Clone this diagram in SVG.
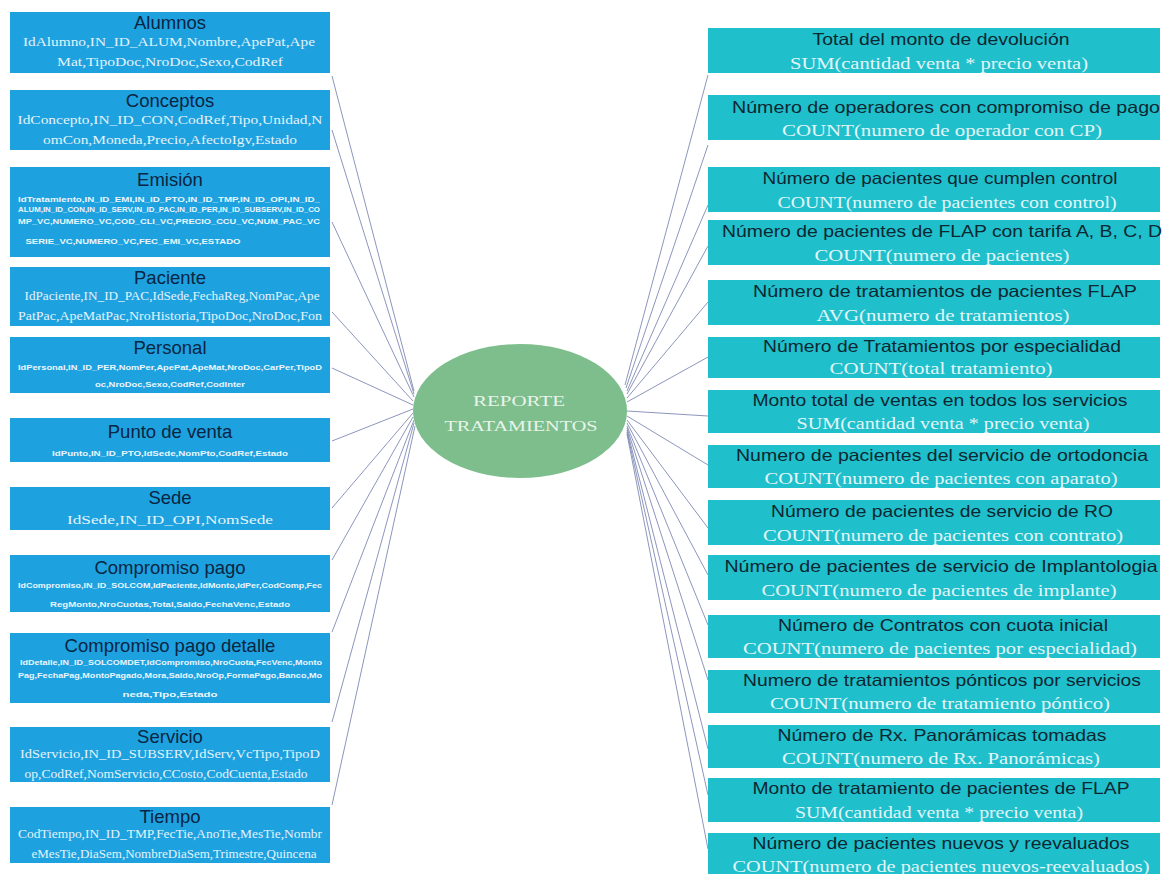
<svg xmlns="http://www.w3.org/2000/svg" width="1163" height="874" viewBox="0 0 1163 874">
<style>
.bg{fill:#ffffff}
.lbox{fill:#1ea1df}
.rbox{fill:#20bfcc}
.lt{font-family:"Liberation Sans",Arial,sans-serif;font-size:18.5px;fill:#0a2542;text-anchor:middle}
.rt{font-family:"Liberation Sans",Arial,sans-serif;font-size:16.5px;fill:#0d2731;text-anchor:middle}
.ls{font-family:"Liberation Serif","Times New Roman",serif;font-size:13px;fill:#e4f3fc;text-anchor:middle}
.lx{font-family:"Liberation Sans",Arial,sans-serif;font-size:7px;font-weight:bold;fill:#eaf6fd;text-anchor:middle}
.rs{font-family:"Liberation Serif","Times New Roman",serif;font-size:16px;fill:#e2f6f8;text-anchor:middle}
.ct{font-family:"Liberation Serif","Times New Roman",serif;font-size:15px;fill:#e8f4ea;text-anchor:middle}
.cn{stroke:#7f89b4;stroke-width:0.9;fill:none}
</style>
<rect class="bg" x="0" y="0" width="1163" height="874"/>
<g id="connectors">
<line class="cn" x1="332" y1="76" x2="414" y2="391"/>
<line class="cn" x1="332" y1="130" x2="414" y2="394"/>
<line class="cn" x1="332" y1="222" x2="414" y2="397"/>
<line class="cn" x1="332" y1="312" x2="413" y2="401"/>
<line class="cn" x1="332" y1="368" x2="413" y2="405"/>
<line class="cn" x1="332" y1="441" x2="413" y2="409"/>
<line class="cn" x1="332" y1="508" x2="413" y2="413"/>
<line class="cn" x1="332" y1="560" x2="413" y2="417"/>
<line class="cn" x1="332" y1="632" x2="414" y2="420"/>
<line class="cn" x1="332" y1="722" x2="414" y2="423"/>
<line class="cn" x1="332" y1="805" x2="415" y2="426"/>
<line class="cn" x1="625" y1="385" x2="708" y2="75"/>
<line class="cn" x1="626" y1="388" x2="708" y2="145"/>
<line class="cn" x1="627" y1="391" x2="708" y2="205"/>
<line class="cn" x1="627" y1="394" x2="708" y2="246"/>
<line class="cn" x1="627" y1="398" x2="708" y2="302"/>
<line class="cn" x1="627" y1="402" x2="708" y2="357"/>
<line class="cn" x1="627" y1="411" x2="708" y2="416"/>
<line class="cn" x1="627" y1="416" x2="708" y2="465"/>
<line class="cn" x1="627" y1="420" x2="708" y2="528"/>
<line class="cn" x1="627" y1="423" x2="708" y2="575"/>
<line class="cn" x1="627" y1="426" x2="708" y2="625"/>
<line class="cn" x1="627" y1="428" x2="708" y2="680"/>
<line class="cn" x1="627" y1="430" x2="708" y2="749"/>
<line class="cn" x1="627" y1="432" x2="708" y2="795"/>
<line class="cn" x1="627" y1="434" x2="708" y2="849"/>
</g>
<g id="center">
<ellipse cx="520" cy="411" rx="107" ry="67" fill="#7dbe8c"/>
<text class="ct" x="519" y="406" textLength="92" lengthAdjust="spacingAndGlyphs">REPORTE</text>
<text class="ct" x="521" y="431" textLength="153" lengthAdjust="spacingAndGlyphs">TRATAMIENTOS</text>
</g>
<g id="alumnos">
<rect class="lbox" x="10" y="12" width="320" height="61"/>
<text class="lt" x="170" y="29">Alumnos</text>
<text class="ls" x="169" y="46" textLength="292" lengthAdjust="spacingAndGlyphs">IdAlumno,IN_ID_ALUM,Nombre,ApePat,Ape</text>
<text class="ls" x="170" y="66" textLength="226" lengthAdjust="spacingAndGlyphs">Mat,TipoDoc,NroDoc,Sexo,CodRef</text>
</g>
<g id="conceptos">
<rect class="lbox" x="10" y="90" width="320" height="60"/>
<text class="lt" x="170" y="107">Conceptos</text>
<text class="ls" x="170" y="124" textLength="305" lengthAdjust="spacingAndGlyphs">IdConcepto,IN_ID_CON,CodRef,Tipo,Unidad,N</text>
<text class="ls" x="170" y="144" textLength="254" lengthAdjust="spacingAndGlyphs">omCon,Moneda,Precio,AfectoIgv,Estado</text>
</g>
<g id="emision">
<rect class="lbox" x="10" y="167" width="320" height="90"/>
<text class="lt" x="170" y="186">Emisión</text>
<text class="lx" x="169" y="202" textLength="302" lengthAdjust="spacingAndGlyphs">IdTratamiento,IN_ID_EMI,IN_ID_PTO,IN_ID_TMP,IN_ID_OPI,IN_ID_</text>
<text class="lx" x="169" y="212" textLength="302" lengthAdjust="spacingAndGlyphs">ALUM,IN_ID_CON,IN_ID_SERV,IN_ID_PAC,IN_ID_PER,IN_ID_SUBSERV,IN_ID_CO</text>
<text class="lx" x="169" y="224" textLength="302" lengthAdjust="spacingAndGlyphs">MP_VC,NUMERO_VC,COD_CLI_VC,PRECIO_CCU_VC,NUM_PAC_VC</text>
<text class="lx" x="133" y="244" textLength="215" lengthAdjust="spacingAndGlyphs">SERIE_VC,NUMERO_VC,FEC_EMI_VC,ESTADO</text>
</g>
<g id="paciente">
<rect class="lbox" x="10" y="267" width="320" height="59"/>
<text class="lt" x="170" y="284">Paciente</text>
<text class="ls" x="172" y="300" textLength="295" lengthAdjust="spacingAndGlyphs">IdPaciente,IN_ID_PAC,IdSede,FechaReg,NomPac,Ape</text>
<text class="ls" x="170" y="320" textLength="304" lengthAdjust="spacingAndGlyphs">PatPac,ApeMatPac,NroHistoria,TipoDoc,NroDoc,Fon</text>
</g>
<g id="personal">
<rect class="lbox" x="10" y="337" width="320" height="56"/>
<text class="lt" x="170" y="354">Personal</text>
<text class="lx" x="170" y="370" textLength="304" lengthAdjust="spacingAndGlyphs">IdPersonal,IN_ID_PER,NomPer,ApePat,ApeMat,NroDoc,CarPer,TipoD</text>
<text class="lx" x="170" y="387" textLength="150" lengthAdjust="spacingAndGlyphs">oc,NroDoc,Sexo,CodRef,CodInter</text>
</g>
<g id="punto-venta">
<rect class="lbox" x="10" y="418" width="320" height="44"/>
<text class="lt" x="170" y="438">Punto de venta</text>
<text class="lx" x="170" y="456" textLength="236" lengthAdjust="spacingAndGlyphs">IdPunto,IN_ID_PTO,IdSede,NomPto,CodRef,Estado</text>
</g>
<g id="sede">
<rect class="lbox" x="10" y="487" width="320" height="43"/>
<text class="lt" x="170" y="504">Sede</text>
<text class="ls" x="170" y="524" textLength="206" lengthAdjust="spacingAndGlyphs">IdSede,IN_ID_OPI,NomSede</text>
</g>
<g id="compromiso-pago">
<rect class="lbox" x="10" y="555" width="320" height="57"/>
<text class="lt" x="170" y="574">Compromiso pago</text>
<text class="lx" x="170" y="588" textLength="304" lengthAdjust="spacingAndGlyphs">IdCompromiso,IN_ID_SOLCOM,IdPaciente,IdMonto,IdPer,CodComp,Fec</text>
<text class="lx" x="170" y="607" textLength="240" lengthAdjust="spacingAndGlyphs">RegMonto,NroCuotas,Total,Saldo,FechaVenc,Estado</text>
</g>
<g id="compromiso-pago-detalle">
<rect class="lbox" x="10" y="633" width="320" height="70"/>
<text class="lt" x="170" y="652">Compromiso pago detalle</text>
<text class="lx" x="171" y="665" textLength="302" lengthAdjust="spacingAndGlyphs">IdDetalle,IN_ID_SOLCOMDET,IdCompromiso,NroCuota,FecVenc,Monto</text>
<text class="lx" x="170" y="678" textLength="304" lengthAdjust="spacingAndGlyphs">Pag,FechaPag,MontoPagado,Mora,Saldo,NroOp,FormaPago,Banco,Mo</text>
<text class="lx" x="170" y="697" textLength="95" lengthAdjust="spacingAndGlyphs">neda,Tipo,Estado</text>
</g>
<g id="servicio">
<rect class="lbox" x="10" y="727" width="320" height="55"/>
<text class="lt" x="170" y="743">Servicio</text>
<text class="ls" x="170" y="758" textLength="300" lengthAdjust="spacingAndGlyphs">IdServicio,IN_ID_SUBSERV,IdServ,VcTipo,TipoD</text>
<text class="ls" x="166" y="778" textLength="283" lengthAdjust="spacingAndGlyphs">op,CodRef,NomServicio,CCosto,CodCuenta,Estado</text>
</g>
<g id="tiempo">
<rect class="lbox" x="10" y="807" width="320" height="56"/>
<text class="lt" x="170" y="823">Tiempo</text>
<text class="ls" x="170" y="838" textLength="304" lengthAdjust="spacingAndGlyphs">CodTiempo,IN_ID_TMP,FecTie,AnoTie,MesTie,Nombr</text>
<text class="ls" x="174" y="858" textLength="285" lengthAdjust="spacingAndGlyphs">eMesTie,DiaSem,NombreDiaSem,Trimestre,Quincena</text>
</g>
<g id="k1">
<rect class="rbox" x="708" y="28" width="452" height="45"/>
<text class="rt" x="941" y="45" textLength="257" lengthAdjust="spacingAndGlyphs">Total del monto de devolución</text>
<text class="rs" x="939" y="69" textLength="298" lengthAdjust="spacingAndGlyphs">SUM(cantidad venta * precio venta)</text>
</g>
<g id="k2">
<rect class="rbox" x="708" y="95" width="452" height="45"/>
<text class="rt" x="946" y="113" textLength="428" lengthAdjust="spacingAndGlyphs">Número de operadores con compromiso de pago</text>
<text class="rs" x="942" y="136" textLength="320" lengthAdjust="spacingAndGlyphs">COUNT(numero de operador con CP)</text>
</g>
<g id="k3">
<rect class="rbox" x="708" y="167" width="452" height="45"/>
<text class="rt" x="940" y="184" textLength="355" lengthAdjust="spacingAndGlyphs">Número de pacientes que cumplen control</text>
<text class="rs" x="947" y="208" textLength="339" lengthAdjust="spacingAndGlyphs">COUNT(numero de pacientes con control)</text>
</g>
<g id="k4">
<rect class="rbox" x="708" y="220" width="452" height="45"/>
<text class="rt" x="942" y="237" textLength="440" lengthAdjust="spacingAndGlyphs">Número de pacientes de FLAP con tarifa A, B, C, D</text>
<text class="rs" x="942" y="261" textLength="255" lengthAdjust="spacingAndGlyphs">COUNT(numero de pacientes)</text>
</g>
<g id="k5">
<rect class="rbox" x="708" y="280" width="452" height="45"/>
<text class="rt" x="945" y="297" textLength="384" lengthAdjust="spacingAndGlyphs">Número de tratamientos de pacientes FLAP</text>
<text class="rs" x="943" y="321" textLength="253" lengthAdjust="spacingAndGlyphs">AVG(numero de tratamientos)</text>
</g>
<g id="k6">
<rect class="rbox" x="708" y="337" width="452" height="41"/>
<text class="rt" x="942" y="352" textLength="358" lengthAdjust="spacingAndGlyphs">Número de Tratamientos por especialidad</text>
<text class="rs" x="941" y="374" textLength="223" lengthAdjust="spacingAndGlyphs">COUNT(total tratamiento)</text>
</g>
<g id="k7">
<rect class="rbox" x="708" y="390" width="452" height="43"/>
<text class="rt" x="940" y="406" textLength="375" lengthAdjust="spacingAndGlyphs">Monto total de ventas en todos los servicios</text>
<text class="rs" x="943" y="429" textLength="293" lengthAdjust="spacingAndGlyphs">SUM(cantidad venta * precio venta)</text>
</g>
<g id="k8">
<rect class="rbox" x="708" y="445" width="452" height="43"/>
<text class="rt" x="942" y="461" textLength="412" lengthAdjust="spacingAndGlyphs">Numero de pacientes del servicio de ortodoncia</text>
<text class="rs" x="941" y="484" textLength="353" lengthAdjust="spacingAndGlyphs">COUNT(numero de pacientes con aparato)</text>
</g>
<g id="k9">
<rect class="rbox" x="708" y="500" width="452" height="45"/>
<text class="rt" x="942" y="517" textLength="342" lengthAdjust="spacingAndGlyphs">Número de pacientes de servicio de RO</text>
<text class="rs" x="943" y="541" textLength="360" lengthAdjust="spacingAndGlyphs">COUNT(numero de pacientes con contrato)</text>
</g>
<g id="k10">
<rect class="rbox" x="708" y="555" width="452" height="45"/>
<text class="rt" x="941" y="572" textLength="433" lengthAdjust="spacingAndGlyphs">Número de pacientes de servicio de Implantologia</text>
<text class="rs" x="939" y="596" textLength="355" lengthAdjust="spacingAndGlyphs">COUNT(numero de pacientes de implante)</text>
</g>
<g id="k11">
<rect class="rbox" x="708" y="615" width="452" height="43"/>
<text class="rt" x="943" y="631" textLength="330" lengthAdjust="spacingAndGlyphs">Número de Contratos con cuota inicial</text>
<text class="rs" x="940" y="654" textLength="394" lengthAdjust="spacingAndGlyphs">COUNT(numero de pacientes por especialidad)</text>
</g>
<g id="k12">
<rect class="rbox" x="708" y="670" width="452" height="43"/>
<text class="rt" x="942" y="686" textLength="398" lengthAdjust="spacingAndGlyphs">Numero de tratamientos pónticos por servicios</text>
<text class="rs" x="940" y="709" textLength="340" lengthAdjust="spacingAndGlyphs">COUNT(numero de tratamiento póntico)</text>
</g>
<g id="k13">
<rect class="rbox" x="708" y="725" width="452" height="43"/>
<text class="rt" x="942" y="741" textLength="329" lengthAdjust="spacingAndGlyphs">Número de Rx. Panorámicas tomadas</text>
<text class="rs" x="941" y="764" textLength="318" lengthAdjust="spacingAndGlyphs">COUNT(numero de Rx. Panorámicas)</text>
</g>
<g id="k14">
<rect class="rbox" x="708" y="778" width="452" height="44"/>
<text class="rt" x="941" y="794" textLength="377" lengthAdjust="spacingAndGlyphs">Monto de tratamiento de pacientes de FLAP</text>
<text class="rs" x="939" y="818" textLength="288" lengthAdjust="spacingAndGlyphs">SUM(cantidad venta * precio venta)</text>
</g>
<g id="k15">
<rect class="rbox" x="708" y="833" width="452" height="41"/>
<text class="rt" x="941" y="849" textLength="377" lengthAdjust="spacingAndGlyphs">Número de pacientes nuevos y reevaluados</text>
<text class="rs" x="941" y="872" textLength="417" lengthAdjust="spacingAndGlyphs">COUNT(numero de pacientes nuevos-reevaluados)</text>
</g>
</svg>
